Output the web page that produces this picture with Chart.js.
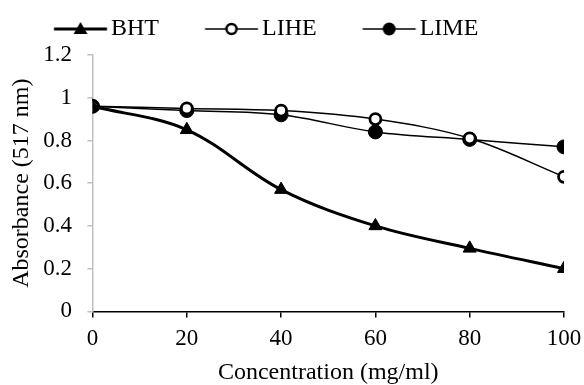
<!DOCTYPE html>
<html>
<head>
<meta charset="utf-8">
<script src="https://cdn.jsdelivr.net/npm/chart.js@4/dist/chart.umd.min.js"></script>
<style>
  body { margin: 0; background: #fff; }
  #wrap { width: 584px; height: 385px; }
</style>
</head>
<body>
<div id="wrap"><canvas id="chart" width="584" height="385"></canvas></div>
<script>
const concentrations = [0, 20, 40, 60, 80, 100];
const bht = [0.96, 0.85, 0.57, 0.40, 0.295, 0.20];
const lihe = [0.96, 0.95, 0.94, 0.90, 0.81, 0.63];
const lime = [0.96, 0.94, 0.92, 0.84, 0.805, 0.77];
const yTicks = [0, 0.2, 0.4, 0.6, 0.8, 1, 1.2];

const FONT = 'Liberation Serif';

function toPoints(vals) {
    return concentrations.map((c, i) => ({ x: c, y: vals[i] }));
}

// legend swatch: line with the marker in the middle, pushed to the right of the box
function swatch(kind, lw) {
    const c = document.createElement('canvas');
    c.width = 110; c.height = 20;
    const g = c.getContext('2d');
    const mid = 74.75, cy = 10;
    g.strokeStyle = '#000';
    g.lineWidth = lw;
    g.beginPath(); g.moveTo(48.25, cy); g.lineTo(101.25, cy); g.stroke();
    g.fillStyle = '#000';
    if (kind === 'tri') {
        g.beginPath(); g.moveTo(mid, cy - 7); g.lineTo(mid + 7, cy + 5); g.lineTo(mid - 7, cy + 5); g.closePath(); g.fill();
    } else if (kind === 'open') {
        g.beginPath(); g.arc(mid, cy, 5, 0, Math.PI * 2);
        g.fillStyle = '#fff'; g.fill();
        g.lineWidth = 2.5; g.stroke();
    } else {
        g.beginPath(); g.arc(mid, cy, 6.5, 0, Math.PI * 2); g.fill();
    }
    return c;
}

const legendIcons = [swatch('tri', 3), swatch('open', 1.5), swatch('dot', 1.5)];

// the legend sits a little higher above the plot than Chart.js puts it
const legendNudge = {
    id: 'legendNudge',
    afterLayout(c) {
        if (c.legend) {
            c.legend.top -= 4;
            c.legend.bottom -= 4;
        }
    }
};

const ctx = document.getElementById('chart').getContext('2d');
const chart = new Chart(ctx, {
    type: 'line',
    data: {
        datasets: [{
            label: 'BHT',
            data: toPoints(bht),
            borderColor: '#000',
            backgroundColor: '#000',
            borderWidth: 3,
            pointStyle: 'triangle',
            pointRadius: 7.5,
            pointBorderWidth: 1,
            tension: 0.35
        }, {
            label: 'LIHE',
            data: toPoints(lihe),
            borderColor: '#000',
            backgroundColor: '#fff',
            borderWidth: 1.5,
            pointStyle: 'circle',
            pointRadius: 5.5,
            pointBorderWidth: 2.8,
            tension: 0.35
        }, {
            label: 'LIME',
            data: toPoints(lime),
            borderColor: '#000',
            backgroundColor: '#000',
            borderWidth: 1.5,
            pointStyle: 'circle',
            pointRadius: 7,
            pointBorderWidth: 1,
            tension: 0.35
        }]
    },
    plugins: [legendNudge],
    options: {
        responsive: false,
        animation: false,
        layout: { padding: { left: 8, right: 0, top: 0, bottom: 0 } },
        plugins: {
            legend: {
                position: 'top',
                align: 'start',
                labels: {
                    usePointStyle: true,
                    boxWidth: 76.5,
                    pointStyleWidth: 76.5,
                    boxHeight: 20,
                    padding: 14.5,
                    color: '#000',
                    font: { family: FONT, size: 24 },
                    generateLabels: (ch) => ch.data.datasets.map((ds, i) => ({
                        text: ds.label,
                        pointStyle: legendIcons[i],
                        fillStyle: '#000',
                        strokeStyle: '#000',
                        lineWidth: 0,
                        datasetIndex: i,
                        fontColor: '#000'
                    }))
                }
            },
            tooltip: { enabled: false }
        },
        scales: {
            x: {
                type: 'linear',
                min: 0,
                max: 100,
                afterFit: (axis) => { axis.paddingRight = 20; },
                ticks: {
                    stepSize: 20,
                    color: '#000',
                    font: { family: FONT, size: 23 },
                    padding: 8
                },
                grid: { drawOnChartArea: false, drawTicks: true, tickLength: 6, color: '#000', lineWidth: 1.5 },
                border: { color: '#000', width: 1.5 },
                title: {
                    display: true,
                    text: 'Concentration (mg/ml)',
                    color: '#000',
                    font: { family: FONT, size: 24, lineHeight: 1 },
                    padding: { top: 0, bottom: 0 }
                }
            },
            y: {
                min: 0,
                max: 1.2,
                afterBuildTicks: (axis) => { axis.ticks = yTicks.map(v => ({ value: v })); },
                afterFit: (axis) => { axis.paddingTop = 55; },
                ticks: {
                    color: '#000',
                    font: { family: FONT, size: 23 },
                    padding: 15.5,
                    callback: (v) => String(Math.round(v * 10) / 10)
                },
                grid: { drawOnChartArea: false, drawTicks: true, tickLength: 5, color: '#bfbfbf', lineWidth: 1.5 },
                border: { color: '#bfbfbf', width: 1.5 },
                title: {
                    display: true,
                    text: 'Absorbance (517 nm)',
                    color: '#000',
                    font: { family: FONT, size: 24, lineHeight: 1 },
                    padding: { top: 2, bottom: -6.25 }
                }
            }
        }
    }
});
</script>
</body>
</html>
